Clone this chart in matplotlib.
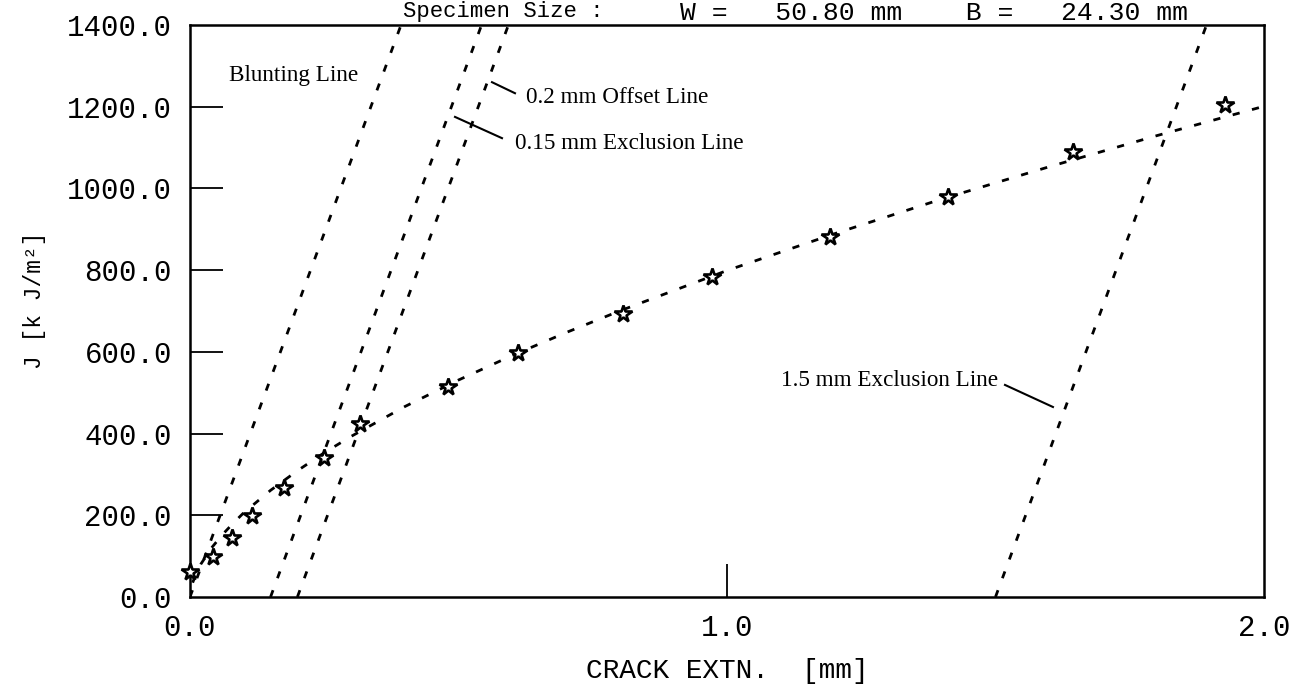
import matplotlib
matplotlib.use("Agg")
import matplotlib.pyplot as plt

# measured J-R data points (crack extension mm, J kJ/m^2)
crack_ext = [0.0, 0.043, 0.079, 0.116, 0.175, 0.250, 0.317, 0.480, 0.611,
             0.807, 0.972, 1.192, 1.412, 1.644, 1.927]
j_values = [62, 99, 144, 198, 266, 341, 423, 515, 596,
            692, 783, 882, 980, 1090, 1204]

# fitted curve
fit_x = [0.005, 0.01, 0.02, 0.04, 0.06, 0.08, 0.10, 0.15, 0.20, 0.25, 0.30,
         0.40, 0.50, 0.60, 0.70, 0.80, 1.00, 1.20, 1.40, 1.60, 1.80, 2.00]
fit_j = [35, 53, 80, 120, 152, 180, 206, 261, 309, 353, 393,
         466, 531, 591, 647, 700, 799, 889, 974, 1053, 1129, 1201]

# construction lines (end points)
line_j = [0, 1400]
blunt_x = [0.0, 0.393]
excl015_x = [0.15, 0.543]
offset02_x = [0.20, 0.593]
excl15_x = [1.50, 1.893]

x_ticks = [0.0, 1.0, 2.0]
y_ticks = [0, 200, 400, 600, 800, 1000, 1200, 1400]

mono = "Liberation Mono"
serif = "Liberation Serif"

fig = plt.figure(figsize=(12.96, 6.94), dpi=100)
ax = fig.add_axes([0.1466, 0.1398, 0.8287, 0.8242])

dash = (0, (2.6, 4.6))
for xs in (blunt_x, excl015_x, offset02_x, excl15_x):
    ax.plot(xs, line_j, color="black", lw=2.0, linestyle=dash)
ax.plot(fit_x, fit_j, color="black", lw=2.0, linestyle=dash)
ax.plot(crack_ext, j_values, linestyle="none", marker="*", markersize=13,
        markerfacecolor="white", markeredgecolor="black", markeredgewidth=1.9,
        clip_on=False, zorder=5)

ax.set_xlim(0, 2.0)
ax.set_ylim(0, 1400)
for s in ax.spines.values():
    s.set_linewidth(1.8)

ax.set_xticks(x_ticks)
ax.set_xticklabels([f"{v:.1f}" for v in x_ticks], fontfamily=mono, fontsize=21)
ax.set_yticks(y_ticks)
ax.set_yticklabels([f"{v:.1f}" for v in y_ticks], fontfamily=mono, fontsize=21)
ax.tick_params(axis="both", direction="in", length=24, width=1.3)
ax.tick_params(axis="y", pad=13)
ax.tick_params(axis="x", pad=12)
for t in (ax.xaxis.get_major_ticks()[0], ax.xaxis.get_major_ticks()[-1],
          ax.yaxis.get_major_ticks()[0], ax.yaxis.get_major_ticks()[-1]):
    t.tick1line.set_visible(False)

ax.set_xlabel("CRACK EXTN.  [mm]", fontfamily=mono, fontsize=20)
ax.xaxis.set_label_coords(0.5, -0.107)
ax.set_ylabel("J [k J/m²]", fontfamily=mono, fontsize=16.5)
ax.yaxis.set_label_coords(-0.134, 0.519)

# annotations
fs = 16.7
ax.text(0.073, 1277, "Blunting Line", fontfamily=serif, fontsize=fs, va="center")
ax.plot([0.5624, 0.6052], [1260, 1233], color="black", lw=1.5)
ax.text(0.626, 1222, "0.2 mm Offset Line", fontfamily=serif, fontsize=fs, va="center")
ax.plot([0.4935, 0.581], [1175, 1123], color="black", lw=1.5)
ax.text(0.605, 1111, "0.15 mm Exclusion Line", fontfamily=serif, fontsize=fs, va="center")
ax.plot([1.5177, 1.607], [519, 465], color="black", lw=1.5)
ax.text(1.505, 531, "1.5 mm Exclusion Line", fontfamily=serif, fontsize=fs,
        va="center", ha="right")

fig.text(0.311, 0.999, "Specimen Size :", fontfamily=mono, fontsize=16, va="top")
fig.text(0.525, 0.999, "W =   50.80 mm    B =   24.30 mm", fontfamily=mono,
         fontsize=19, va="top")

fig.savefig("out.png", dpi=100)
